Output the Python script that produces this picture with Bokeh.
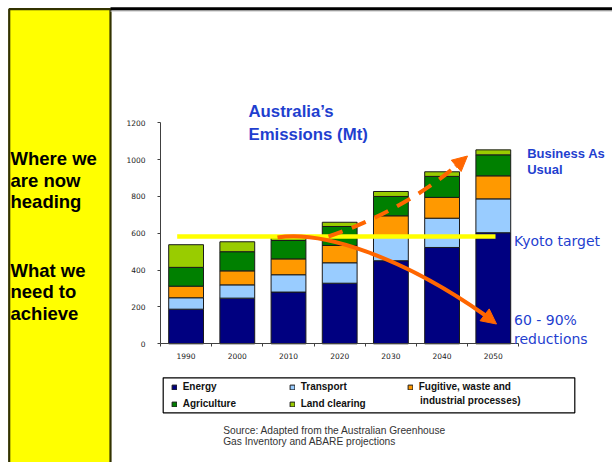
from bokeh.plotting import figure
from bokeh.models import (Range1d, LinearAxis, FixedTicker, ColumnDataSource, Legend,
                          LegendItem, Label, Arrow, NormalHead)
from bokeh.embed import file_html
from bokeh.resources import INLINE

# ---------------- data ----------------
years = ["1990", "2000", "2010", "2020", "2030", "2040", "2050"]
energy = [188, 248, 281, 329, 451, 523, 603]
transport = [62, 72, 94, 111, 135, 159, 184]
fugitive = [63, 76, 86, 94, 109, 113, 125]
agriculture = [102, 104, 100, 103, 105, 114, 114]
land_clearing = [123, 54, 15, 23, 27, 25, 27]
y_ticks = [0, 200, 400, 600, 800, 1000, 1200]
kyoto_target = 582
series_labels = ["Energy", "Transport", "Fugitive, waste and", "Agriculture", "Land clearing"]
series_label_extra = "industrial processes)"
series_colors = ["#000080", "#99ccff", "#ff9900", "#008000", "#99cc00"]

# ---------------- layout constants (page pixel coordinates) ----------------
W, H = 612, 462
PX0, PY0 = 0, 0                       # canvas origin on page
AX_X0 = 160.0                         # page x of category axis origin
CAT_PX = 51.2                         # px per category
VAL_Y0 = 343.3                        # page y of value 0
VAL_PX = 221.0 / 1200.0               # px per Mt

p = figure(width=W, height=H, output_backend="svg", toolbar_location=None,
           x_range=Range1d(PX0, PX0 + W), y_range=Range1d(PY0 + H, PY0),
           x_axis_type=None, y_axis_type=None, min_border=0,
           outline_line_color=None, background_fill_color="white",
           border_fill_color="white")

p.extra_x_ranges = {"cat": Range1d((PX0 - AX_X0) / CAT_PX, (PX0 + W - AX_X0) / CAT_PX)}
p.extra_y_ranges = {"emis": Range1d(-(PY0 + H - VAL_Y0) / VAL_PX, (VAL_Y0 - PY0) / VAL_PX)}

# ---------------- left yellow panel and top rule ----------------
p.quad(left=[8.7], right=[110], top=[8.7], bottom=[470], fill_color="#ffff00",
       line_color="#333300", line_width=2.2)
p.segment(x0=[110], x1=[620], y0=[8.4], y1=[8.4], line_color="black", line_width=3.4)
p.segment(x0=[110], x1=[620], y0=[10.6], y1=[10.6], line_color="#c8c8c8", line_width=1)

panel_font = "Liberation Sans"
for txt, yy in [("Where we", 158), ("are now", 179.5), ("heading", 200.5),
                ("What we", 269.5), ("need to", 291), ("achieve", 312.5)]:
    p.add_layout(Label(x=10, y=yy, text=txt, text_font=panel_font, text_font_style="bold",
                       text_font_size="18.5px", text_color="black", text_baseline="middle"))

# ---------------- stacked bars ----------------
xc = [i + 0.5 for i in range(len(years))]
src = ColumnDataSource(dict(x=xc, energy=energy, transport=transport, fugitive=fugitive,
                            agriculture=agriculture, land=land_clearing))
stack_fields = ["energy", "transport", "fugitive", "agriculture", "land"]
rs = p.vbar_stack(stack_fields, x="x", width=0.68, source=src, fill_color=series_colors,
                  line_color="#1a1a1a", line_width=1,
                  x_range_name="cat", y_range_name="emis")

# ---------------- axes ----------------
tick_font = "DejaVu Sans"
yaxis = LinearAxis(x_range_name="cat", y_range_name="emis", fixed_location=0,
                   bounds=(0, 1200), ticker=FixedTicker(ticks=y_ticks, minor_ticks=[]),
                   major_tick_in=0, major_tick_out=3, minor_tick_in=0, minor_tick_out=0,
                   axis_line_color="#404040", major_tick_line_color="#404040",
                   major_label_text_font=tick_font, major_label_text_font_size="7.5px",
                   major_label_text_color="#222222", major_label_standoff=12)
p.add_layout(yaxis, "left")

xaxis = LinearAxis(x_range_name="cat", y_range_name="emis", fixed_location=0,
                   bounds=(0, len(years)),
                   ticker=FixedTicker(ticks=xc, minor_ticks=list(range(len(years) + 1))),
                   major_label_overrides={v: y for v, y in zip(xc, years)},
                   major_tick_in=0, major_tick_out=0, minor_tick_in=0, minor_tick_out=3,
                   axis_line_color="#404040", minor_tick_line_color="#404040",
                   major_label_text_font=tick_font, major_label_text_font_size="7.5px",
                   major_label_text_color="#222222", major_label_standoff=6)
p.add_layout(xaxis, "below")

# ---------------- Kyoto target line ----------------
p.segment(x0=[0.326], x1=[6.543], y0=[kyoto_target], y1=[kyoto_target],
          line_color="#ffff00", line_width=4.5, x_range_name="cat", y_range_name="emis")

# ---------------- arrows ----------------
orange = "#ff6600"
p.bezier(x0=[277], y0=[237], cx0=[320], cy0=[230], cx1=[400], cy1=[255], x1=[485], y1=[315],
         line_color=orange, line_width=4)
p.add_layout(Arrow(end=NormalHead(size=15, fill_color=orange, line_color=orange),
                   x_start=485, y_start=315, x_end=496, y_end=323.5,
                   line_color=orange, line_width=4))
p.bezier(x0=[328], y0=[236], cx0=[370], cy0=[222], cx1=[420], cy1=[196], x1=[455], y1=[166],
         line_color=orange, line_width=4, line_dash="15 10")
p.add_layout(Arrow(end=NormalHead(size=15, fill_color=orange, line_color=orange),
                   x_start=455, y_start=166, x_end=467, y_end=155.5,
                   line_color=orange, line_width=4))

# ---------------- annotations ----------------
blue = "#1f3fcf"
p.add_layout(Label(x=248, y=110.5, text="Australia\u2019s", text_font="Liberation Sans",
                   text_font_style="bold", text_font_size="16.8px", text_color=blue,
                   text_baseline="middle"))
p.add_layout(Label(x=248, y=133.5, text="Emissions (Mt)", text_font="Liberation Sans",
                   text_font_style="bold", text_font_size="16.8px", text_color=blue,
                   text_baseline="middle"))
p.add_layout(Label(x=526.7, y=153, text="Business As", text_font="Liberation Sans",
                   text_font_style="bold", text_font_size="13px", text_color=blue,
                   text_baseline="middle"))
p.add_layout(Label(x=526.7, y=168.5, text="Usual", text_font="Liberation Sans",
                   text_font_style="bold", text_font_size="13px", text_color=blue,
                   text_baseline="middle"))
p.add_layout(Label(x=513.5, y=240, text="Kyoto target", text_font="DejaVu Sans",
                   text_font_size="14px", text_color=blue, text_baseline="middle"))
p.add_layout(Label(x=513.5, y=319, text="60 - 90%", text_font="DejaVu Sans",
                   text_font_size="14px", text_color=blue, text_baseline="middle"))
p.add_layout(Label(x=513.5, y=338.5, text="reductions", text_font="DejaVu Sans",
                   text_font_size="14px", text_color=blue, text_baseline="middle"))

# source note
for txt, yy in [("Source: Adapted from the Australian Greenhouse", 430),
                ("Gas Inventory and ABARE projections", 441)]:
    p.add_layout(Label(x=222.7, y=yy, text=txt, text_font="Liberation Sans",
                       text_font_size="10.2px", text_color="#333333", text_baseline="middle"))

# ---------------- legend ----------------
p.quad(left=[162.7], right=[574.3], top=[377.3], bottom=[412.3], fill_color=None,
       line_color="black", line_width=1.2)
items = [LegendItem(label=series_labels[i], renderers=[rs[i]]) for i in range(5)]
legend = Legend(items=items, orientation="horizontal", ncols=3,
                location=(170.7 - PX0, (PY0 + H) - 409.8),
                padding=0, margin=0, spacing=5,
                glyph_width=6, glyph_height=6, label_standoff=6,
                label_width=101, label_height=12,
                label_text_font="Liberation Sans", label_text_font_style="bold",
                label_text_font_size="10px", label_text_color="#111111",
                border_line_alpha=0, background_fill_alpha=0)
p.add_layout(legend)
p.add_layout(Label(x=419.5, y=399.5, text=series_label_extra, text_font="Liberation Sans",
                   text_font_style="bold", text_font_size="10px", text_color="#111111",
                   text_baseline="middle"))

open("out.html", "w").write(file_html(p, INLINE))
